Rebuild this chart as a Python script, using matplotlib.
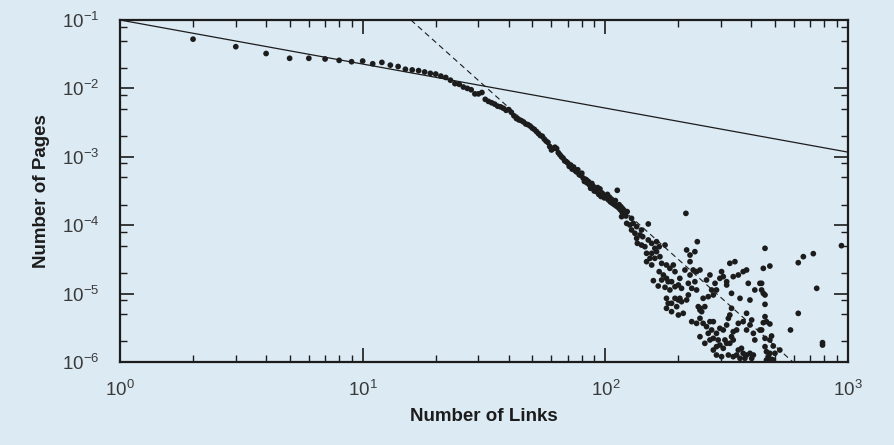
import matplotlib
matplotlib.use("Agg")
import matplotlib.pyplot as plt
import numpy as np
from matplotlib.ticker import LogLocator, LogFormatterSciNotation, NullFormatter

BG = "#dbeaf3"
INK = "#1c1c1c"

# Link counts with one page fraction each (log10 of the fraction)
dense_links = list(range(2, 121))
dense_log_pages = [
    -1.28, -1.39, -1.49, -1.56, -1.56, -1.57, -1.59, -1.61, -1.60, -1.64,
    -1.62, -1.66, -1.68, -1.72, -1.73, -1.74, -1.76, -1.78, -1.79, -1.82,
    -1.84, -1.88, -1.93, -1.94, -1.98, -2.00, -2.02, -2.08, -2.08, -2.06,
    -2.16, -2.19, -2.21, -2.23, -2.26, -2.27, -2.29, -2.32, -2.31, -2.35,
    -2.40, -2.44, -2.46, -2.47, -2.49, -2.52, -2.53, -2.55, -2.58, -2.60,
    -2.63, -2.66, -2.69, -2.70, -2.74, -2.77, -2.79, -2.85, -2.90, -2.88,
    -2.86, -2.88, -2.94, -2.97, -3.00, -3.02, -3.06, -3.07, -3.09, -3.14,
    -3.12, -3.18, -3.15, -3.20, -3.22, -3.19, -3.26, -3.27, -3.24, -3.31,
    -3.36, -3.33, -3.38, -3.36, -3.41, -3.46, -3.39, -3.44, -3.50, -3.48,
    -3.51, -3.45, -3.55, -3.47, -3.58, -3.53, -3.56, -3.60, -3.57, -3.60,
    -3.55, -3.63, -3.59, -3.66, -3.62, -3.68, -3.65, -3.70, -3.64, -3.72,
    -3.49, -3.74, -3.70, -3.77, -3.73, -3.80, -3.76, -3.82, -3.79,
]

# Scattered tail, read in log10 units (links, pages)
tail_log_links = [
    2.071, 2.090, 2.067, 2.085, 2.108, 2.088, 2.101, 2.115, 2.129, 2.149,
    2.177, 2.108, 2.122, 2.143, 2.129, 2.154, 2.132, 2.149, 2.163, 2.177,
    2.191, 2.211, 2.222, 2.204, 2.170, 2.191, 2.211, 2.184, 2.204, 2.170,
    2.191, 2.225, 2.232, 2.246, 2.252, 2.222, 2.239, 2.252, 2.266, 2.280,
    2.287, 2.273, 2.259, 2.232, 2.198, 2.218, 2.246, 2.266, 2.287, 2.307,
    2.301, 2.314, 2.328, 2.342, 2.349, 2.335, 2.349, 2.369, 2.379, 2.362,
    2.376, 2.390, 2.349, 2.369, 2.376, 2.356, 2.332, 2.252, 2.287, 2.301,
    2.314, 2.307, 2.259, 2.273, 2.252, 2.273, 2.301, 2.321, 2.335, 2.342,
    2.356, 2.376, 2.383, 2.390, 2.294,
    2.390, 2.410, 2.403, 2.424, 2.445, 2.438, 2.417, 2.431, 2.452, 2.458,
    2.479, 2.486, 2.472, 2.500, 2.500, 2.513, 2.534, 2.520, 2.527, 2.548,
    2.568, 2.582, 2.555, 2.596, 2.589, 2.616, 2.637, 2.390, 2.397, 2.403,
    2.417, 2.431, 2.445, 2.438, 2.424, 2.390, 2.410, 2.431, 2.445, 2.458,
    2.465, 2.472, 2.486, 2.500, 2.507, 2.513, 2.520, 2.520, 2.527, 2.541,
    2.548, 2.568, 2.582, 2.603, 2.596, 2.582, 2.610, 2.616, 2.637, 2.445,
    2.458, 2.472, 2.486, 2.493, 2.500, 2.513, 2.527, 2.548, 2.561, 2.568,
    2.582, 2.596, 2.603, 2.555, 2.541, 2.527, 2.575, 2.610, 2.458, 2.479,
    2.507,
    2.658, 2.651, 2.678, 2.644, 2.644, 2.651, 2.658, 2.658, 2.658, 2.664,
    2.651, 2.678, 2.644, 2.658, 2.685, 2.678, 2.692, 2.658, 2.664, 2.678,
    2.699, 2.671, 2.685, 2.664, 2.692, 2.719, 2.763, 2.795, 2.795, 2.816,
    2.857, 2.871, 2.895, 2.895, 2.973,
]
tail_log_pages = [
    -3.817, -3.802, -3.875, -3.866, -3.900, -3.973, -3.997, -3.973, -4.021, -4.070,
    -3.982, -4.070, -4.119, -4.143, -4.192, -4.168, -4.265, -4.290, -4.314, -4.216,
    -4.265, -4.241, -4.314, -4.338, -4.411, -4.411, -4.387, -4.484, -4.484, -4.533,
    -4.582, -4.460, -4.558, -4.290, -4.582, -4.679, -4.728, -4.777, -4.631, -4.582,
    -4.679, -4.826, -4.826, -4.801, -4.811, -4.889, -4.908, -4.947, -4.899, -4.777,
    -4.874, -4.923, -4.655, -4.850, -4.533, -4.362, -4.436, -4.387, -4.241, -4.655,
    -4.679, -4.655, -4.728, -4.826, -4.947, -4.923, -3.827, -5.069, -5.069, -5.093,
    -5.118, -5.069, -5.142, -5.142, -5.215, -5.264, -5.313, -5.288, -5.093, -5.020,
    -5.410, -5.435, -5.191, -5.240, -5.191,
    -5.215, -5.191, -5.069, -5.045, -5.020, -4.947, -4.801, -4.728, -4.850, -4.947,
    -4.679, -4.752, -4.777, -4.826, -4.874, -4.557, -4.533, -4.996, -4.752, -4.728,
    -4.679, -4.655, -5.069, -5.094, -4.850, -4.947, -4.850, -5.362, -5.264, -5.435,
    -5.483, -5.410, -5.410, -5.532, -5.581, -5.630, -5.727, -5.678, -5.654, -5.581,
    -5.678, -5.508, -5.532, -5.459, -5.362, -5.313, -5.215, -5.630, -5.557, -5.532,
    -5.435, -5.410, -5.288, -5.386, -5.459, -5.532, -5.581, -5.678, -5.532, -5.825,
    -5.776, -5.752, -5.800, -5.678, -5.727, -5.727, -5.678, -5.825, -5.800, -5.873,
    -5.898, -5.873, -5.947, -5.947, -5.898, -5.922, -5.947, -5.898, -5.898, -5.922,
    -5.898,
    -4.338, -4.631, -4.597, -4.850, -4.947, -4.996, -5.020, -5.157, -5.337, -5.410,
    -5.425, -5.444, -5.532, -5.654, -5.620, -5.678, -5.766, -5.776, -5.849, -5.873,
    -5.873, -5.922, -5.961, -5.971, -5.971, -5.825, -5.532, -5.289, -4.548, -4.460,
    -4.416, -4.923, -5.717, -5.752, -4.299,
]

# Power-law guide lines (end points)
solid_x = [1, 1000]
solid_y = [1e-1, 1.17e-3]
dashed_x = [15.8, 593]
dashed_y = [1e-1, 1e-6]

plt.rcParams["font.family"] = ["Liberation Sans", "DejaVu Sans"]
plt.rcParams["mathtext.fontset"] = "custom"
plt.rcParams["mathtext.rm"] = "Liberation Sans"

fig = plt.figure(figsize=(8.94, 4.45), dpi=100, facecolor=BG)
ax = fig.add_axes([120 / 894, 1 - 362 / 445, 728 / 894, 342 / 445])
ax.set_facecolor(BG)

links = np.concatenate([np.array(dense_links, float), 10 ** np.array(tail_log_links)])
pages = 10 ** np.concatenate([np.array(dense_log_pages), np.array(tail_log_pages)])

ax.plot(solid_x, solid_y, color=INK, lw=0.9, zorder=2)
ax.plot(dashed_x, dashed_y, color=INK, lw=0.8, ls=(0, (5, 3.5)), zorder=2)
ax.scatter(links, pages, s=17, color=INK, edgecolors="none", zorder=3)

ax.set_xscale("log")
ax.set_yscale("log")
ax.set_xlim(1, 1000)
ax.set_ylim(1e-6, 1e-1)

ax.xaxis.set_major_locator(LogLocator(base=10, numticks=10))
ax.xaxis.set_minor_locator(LogLocator(base=10, subs=np.arange(2, 10), numticks=20))
ax.yaxis.set_major_locator(LogLocator(base=10, numticks=10))
ax.yaxis.set_minor_locator(LogLocator(base=10, subs=(2, 5, 8), numticks=20))
ax.xaxis.set_major_formatter(LogFormatterSciNotation())
ax.yaxis.set_major_formatter(LogFormatterSciNotation())
ax.xaxis.set_minor_formatter(NullFormatter())
ax.yaxis.set_minor_formatter(NullFormatter())

for side in ax.spines.values():
    side.set_linewidth(1.6)
    side.set_color(INK)

ax.tick_params(which="both", direction="in", top=True, right=True, color=INK)
ax.tick_params(which="major", length=10, width=1.2)
ax.tick_params(which="minor", length=5, width=1.0)
ax.tick_params(axis="x", which="major", pad=13, labelsize=13.5, labelcolor="#3a3a3a")
ax.tick_params(axis="y", which="major", pad=15, labelsize=13.5, labelcolor="#3a3a3a")

ax.set_xlabel("Number of Links", fontsize=13.5, fontweight="bold", color=INK, labelpad=6)
ax.set_ylabel("Number of Pages", fontsize=13.5, fontweight="bold", color=INK, labelpad=8)

fig.savefig("out.png", dpi=100, facecolor=BG)
